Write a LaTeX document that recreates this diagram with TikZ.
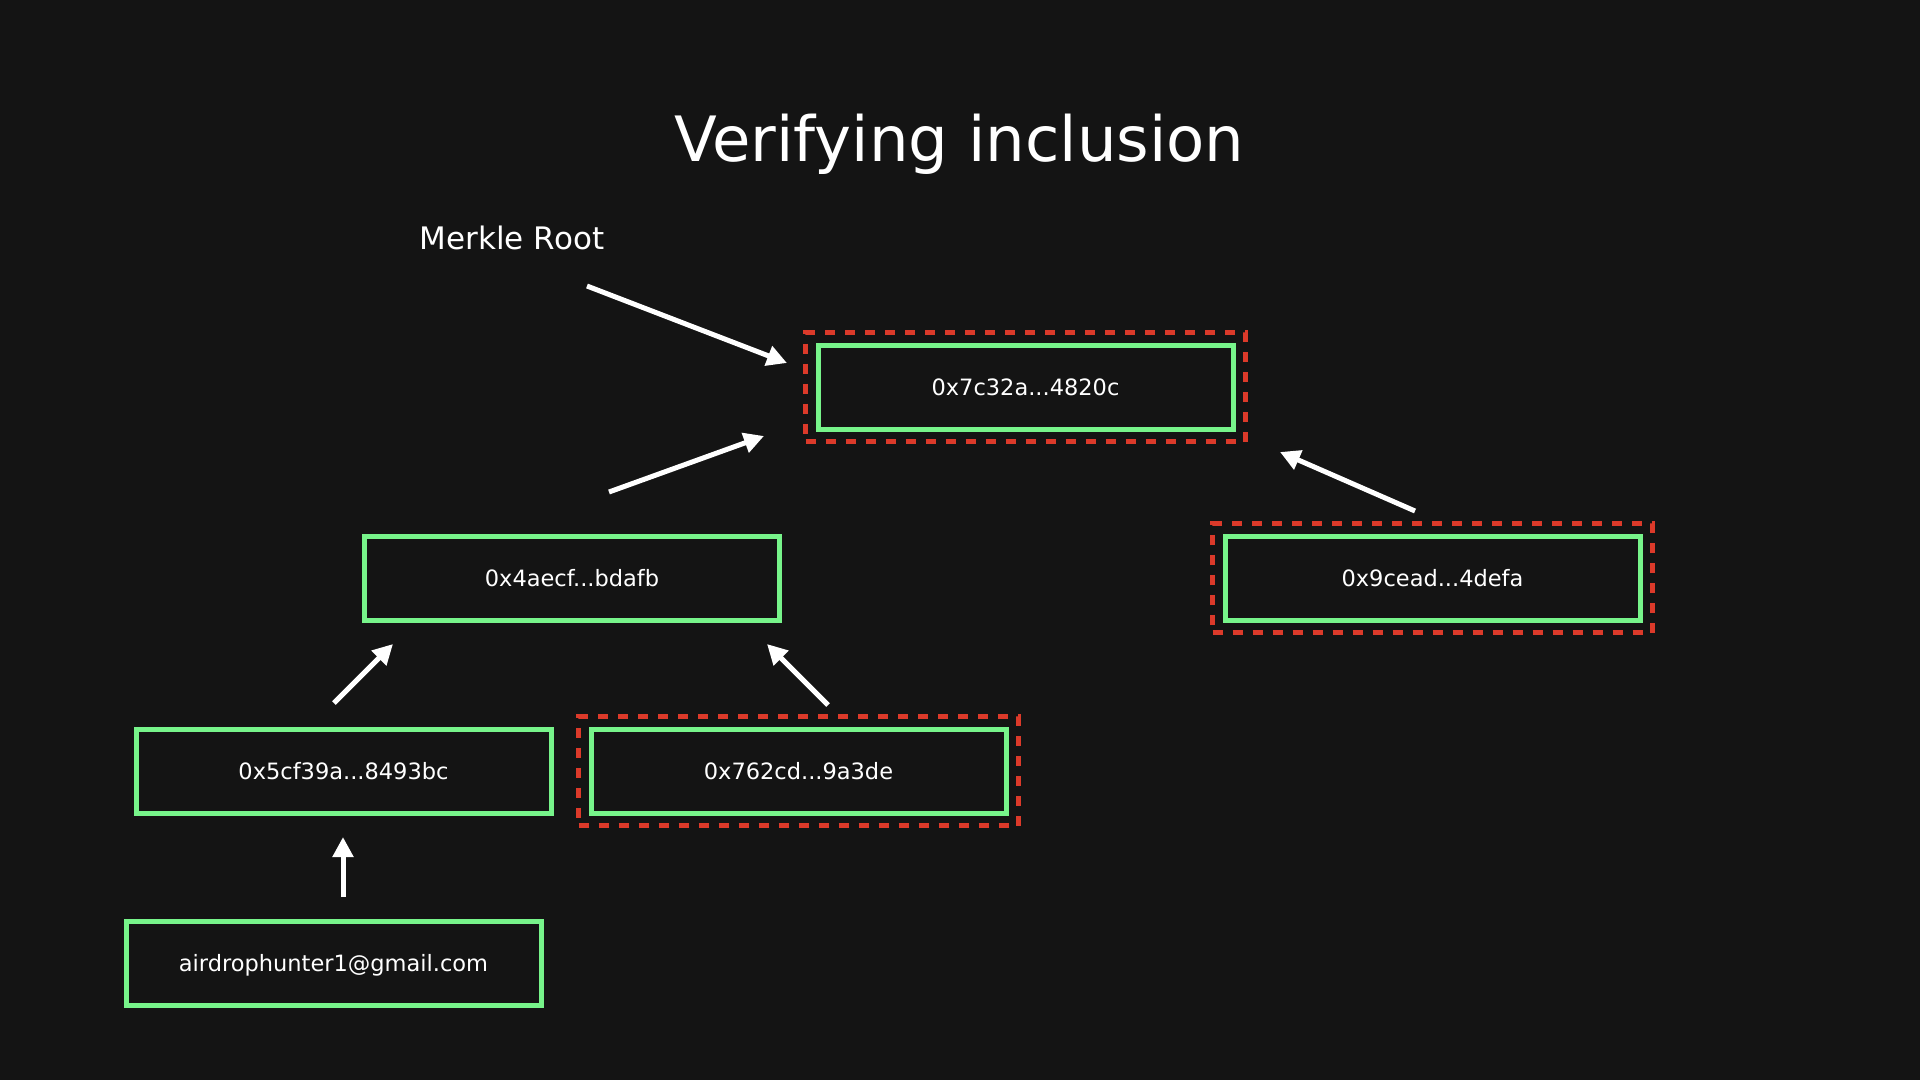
\documentclass[tikz,border=0pt]{standalone}
\usepackage{fontspec}
\setmainfont{DejaVu Sans}
\usetikzlibrary{arrows.meta,fit}
\definecolor{slidebg}{HTML}{141414}
\definecolor{hashgreen}{HTML}{77F48A}
\definecolor{proofred}{HTML}{DC3A2A}
\tikzset{
  hashbox/.style={draw=hashgreen, line width=5pt, minimum width=415pt, minimum height=84pt,
    text=white, font=\fontsize{22.5}{22.5}\selectfont, text height=16pt, text depth=0pt},
  proofbox/.style={draw=proofred, line width=5pt, dash pattern=on 10pt off 10pt, inner sep=10pt},
  hasharrow/.style={white, line width=5pt, -{Triangle[length=20pt,width=20pt]}}
}
\begin{document}
\begin{tikzpicture}[x=1pt,y=-1pt]
  \fill[slidebg] (0,0) rectangle (1920,1080);
  \useasboundingbox (0,0) rectangle (1920,1080);

  \node[anchor=base, text=white, font=\fontsize{62.5}{62.5}\selectfont] (title) at (959.5,161) {Verifying inclusion};
  \node[anchor=base, text=white, font=\fontsize{31}{31}\selectfont] (merkle) at (512,249) {Merkle Root};

  % the tree
  \node[hashbox] (root) at (1025.5,387) {0x7c32a...4820c};
  \node[hashbox] (left) at (572,578) {0x4aecf...bdafb};
  \node[hashbox] (right) at (1432.5,578) {0x9cead...4defa};
  \node[hashbox] (leaf) at (343.5,771) {0x5cf39a...8493bc};
  \node[hashbox] (sibling) at (798.5,771) {0x762cd...9a3de};
  \node[hashbox] (email) at (333.5,963) {airdrophunter1@gmail.com};

  % the proof
  \node[proofbox, fit=(root)] (rootproof) {};
  \node[proofbox, fit=(right)] (rightproof) {};
  \node[proofbox, fit=(sibling)] (siblingproof) {};

  \coordinate (merkletail) at (587,286);
  \coordinate (merkletip) at (787,363);
  \coordinate (lefttail) at (609,492);
  \coordinate (lefttip) at (764,436);
  \coordinate (righttail) at (1415,511);
  \coordinate (righttip) at (1280,452);
  \coordinate (leaftail) at (334,703);
  \coordinate (leaftip) at (393,644);
  \coordinate (siblingtail) at (828,705);
  \coordinate (siblingtip) at (767,644);
  \coordinate (emailtail) at (343,897);
  \coordinate (emailtip) at (343,837);

  \draw[hasharrow] (merkletail) -- (merkletip);
  \draw[hasharrow] (lefttail) -- (lefttip);
  \draw[hasharrow] (righttail) -- (righttip);
  \draw[hasharrow] (leaftail) -- (leaftip);
  \draw[hasharrow] (siblingtail) -- (siblingtip);
  \draw[hasharrow] (emailtail) -- (emailtip);
\end{tikzpicture}
\end{document}
